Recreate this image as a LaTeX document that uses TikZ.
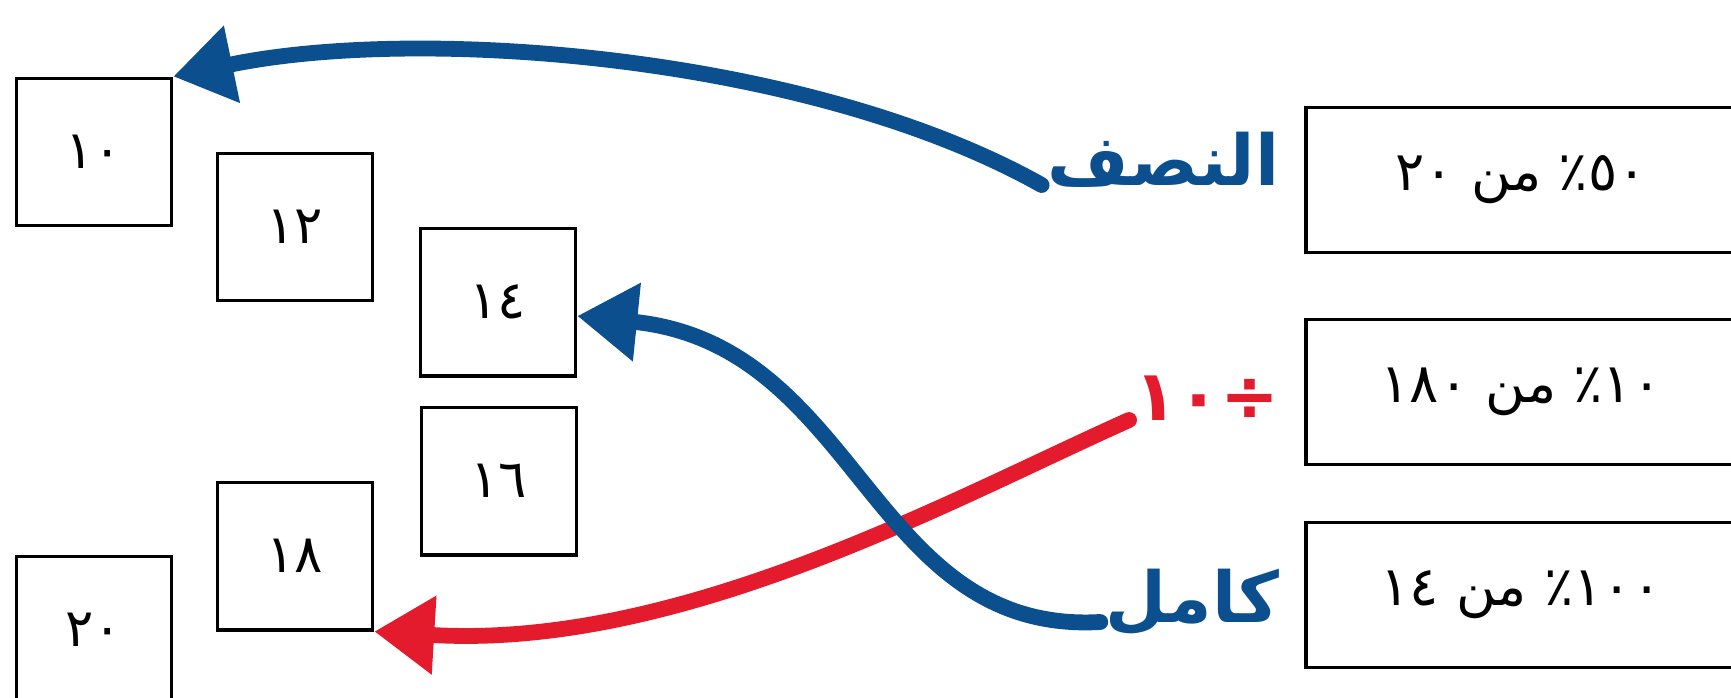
\documentclass[tikz,border=0pt]{standalone}
\usepackage{fontspec}
\usepackage{tikz}
\usepackage{xcolor}
\usetikzlibrary{arrows.meta, calc, positioning}

\newfontfamily\arabicfont[Script=Arabic]{DejaVu Sans}
\TeXXeTstate=1

\definecolor{penblue}{HTML}{0B4F8F}
\definecolor{penred}{HTML}{E31B2C}

\tikzset{
    numbox/.style={draw, line width=2pt, minimum width=3.1cm, minimum height=2.95cm,
        font=\arabicfont\fontsize{30}{36}\selectfont},
    rowbox/.style={draw, line width=2pt, minimum width=8.6cm, minimum height=2.9cm,
        font=\arabicfont\fontsize{31}{36}\selectfont},
    handword/.style={anchor=base east, inner sep=3pt,
        font=\arabicfont\bfseries\fontsize{40}{48}\selectfont},
    handarrow/.style={line width=9pt, line cap=round, -{Triangle[length=1.2cm, width=1.5cm]}}
}

\begin{document}
\begin{tikzpicture}[x=0.02cm, y=-0.02cm]
    \useasboundingbox (0, 0) rectangle (1731, 697);
    \clip (0, 0) rectangle (1731, 697);

    \node[numbox] (n10) at (94, 152) {١٠};
    \node[numbox] (n12) at (295, 227) {١٢};
    \node[numbox] (n14) at (498, 302) {١٤};
    \node[numbox] (n16) at (499, 481) {١٦};
    \node[numbox] (n18) at (295, 556) {١٨};
    \node[numbox] (n20) at (94, 630) {٢٠};

    \node[rowbox] (p50) at (1521, 180) {\beginR\beginL٥٠\endL٪ من \beginL٢٠\endL\endR};
    \node[rowbox] (p10) at (1521, 392) {\beginR\beginL١٠\endL٪ من \beginL١٨٠\endL\endR};
    \node[rowbox] (p100) at (1521, 595) {\beginR\beginL١٠٠\endL٪ من \beginL١٤\endL\endR};

    \node[handword, text=penblue] (half) at (1285, 185) {\beginR النصف\endR};
    \node[handword, text=penred] (divten) at (1285, 420) {\beginR÷\beginL١٠\endL\endR};
    \node[handword, text=penblue] (whole) at (1285, 622) {\beginR كامل\endR};

    \draw[handarrow, penred] (divten.base west) .. controls (950, 500) and (680, 650) .. (n18.south east);
    \draw[handarrow, penblue] (whole.base west) .. controls (870, 635) and (860, 345) .. (n14.-10);
    \draw[handarrow, penblue] (half.base west) .. controls (810, 55) and (420, 25) .. (n10.north east);
\end{tikzpicture}
\end{document}
